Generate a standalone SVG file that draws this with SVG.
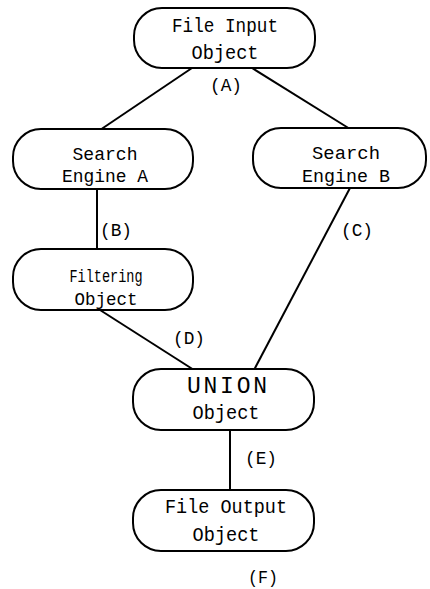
<svg xmlns="http://www.w3.org/2000/svg" width="430" height="589" viewBox="0 0 430 589">
  <style>
    .box { fill: #ffffff; stroke: #000000; stroke-width: 2; }
    .edge { stroke: #000000; stroke-width: 2; fill: none; }
    text { font-family: "Liberation Mono", "DejaVu Sans Mono", monospace; fill: #000000; text-anchor: middle; }
    .big { font-size: 21px; }
    .mid { font-size: 18px; }
    .lbl { font-size: 19px; }
  </style>
  <rect width="430" height="589" fill="#ffffff"/>

  <g id="connectors">
    <line class="edge" x1="192" y1="68" x2="100" y2="130"/>
    <line class="edge" x1="252" y1="68" x2="350" y2="129"/>
    <line class="edge" x1="97" y1="189" x2="97" y2="250"/>
    <line class="edge" x1="350" y1="188" x2="254" y2="370"/>
    <line class="edge" x1="100" y1="310" x2="194" y2="370"/>
    <line class="edge" x1="230" y1="430" x2="230" y2="491"/>
    <text class="lbl" x="226" y="91" textLength="32" lengthAdjust="spacingAndGlyphs">(A)</text>
    <text class="lbl" x="116" y="236" textLength="32" lengthAdjust="spacingAndGlyphs">(B)</text>
    <text class="lbl" x="357" y="236" textLength="32" lengthAdjust="spacingAndGlyphs">(C)</text>
    <text class="lbl" x="189" y="344" textLength="32" lengthAdjust="spacingAndGlyphs">(D)</text>
    <text class="lbl" x="261" y="464" textLength="32" lengthAdjust="spacingAndGlyphs">(E)</text>
    <text class="lbl" x="263" y="583" textLength="30" lengthAdjust="spacingAndGlyphs">(F)</text>
  </g>

  <g id="file-input">
    <rect class="box" x="134" y="8" width="181" height="60" rx="28" ry="28"/>
    <text class="big" x="225" y="32" textLength="106" lengthAdjust="spacingAndGlyphs">File Input</text>
    <text class="big" x="225" y="59" textLength="67" lengthAdjust="spacingAndGlyphs">Object</text>
  </g>

  <g id="search-engine-a">
    <rect class="box" x="13" y="129" width="180" height="60" rx="28" ry="28"/>
    <text class="mid" x="105" y="160" textLength="65" lengthAdjust="spacingAndGlyphs">Search</text>
    <text class="mid" x="105" y="182" textLength="86" lengthAdjust="spacingAndGlyphs">Engine A</text>
  </g>

  <g id="search-engine-b">
    <rect class="box" x="253" y="128" width="173" height="60" rx="28" ry="28"/>
    <text class="mid" x="346" y="159" textLength="68" lengthAdjust="spacingAndGlyphs">Search</text>
    <text class="mid" x="346" y="182" textLength="88" lengthAdjust="spacingAndGlyphs">Engine B</text>
  </g>

  <g id="filtering-object">
    <rect class="box" x="13" y="249" width="180" height="61" rx="28" ry="28"/>
    <text class="mid" x="106" y="282" textLength="73" lengthAdjust="spacingAndGlyphs">Filtering</text>
    <text class="mid" x="106" y="305" textLength="63" lengthAdjust="spacingAndGlyphs">Object</text>
  </g>

  <g id="union-object">
    <rect class="box" x="133" y="369" width="181" height="61" rx="28" ry="28"/>
    <text x="227" y="393" font-size="23" textLength="80" lengthAdjust="spacing">UNION</text>
    <text class="big" x="226" y="419" textLength="67" lengthAdjust="spacingAndGlyphs">Object</text>
  </g>

  <g id="file-output">
    <rect class="box" x="133" y="490" width="181" height="61" rx="28" ry="28"/>
    <text class="big" x="226" y="513" textLength="122" lengthAdjust="spacingAndGlyphs">File Output</text>
    <text class="big" x="226" y="541" textLength="67" lengthAdjust="spacingAndGlyphs">Object</text>
  </g>
</svg>
